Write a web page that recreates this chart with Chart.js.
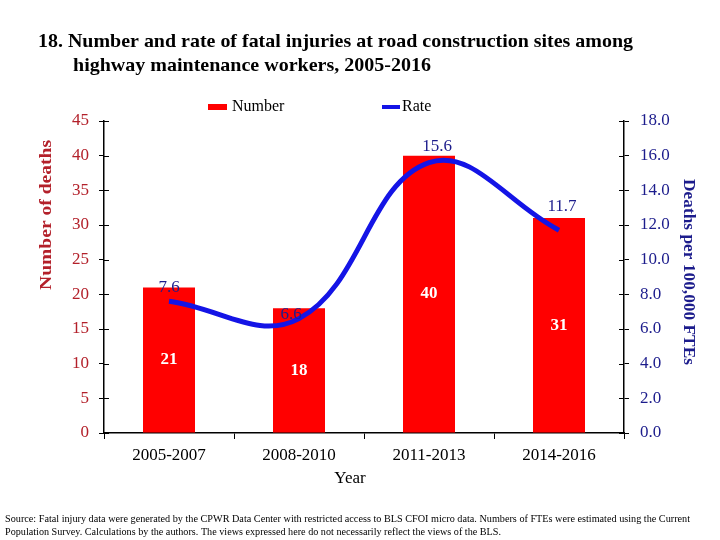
<!DOCTYPE html>
<html>
<head>
<meta charset="utf-8">
<script src="https://cdn.jsdelivr.net/npm/chart.js@4.4.0/dist/chart.umd.min.js"></script>
<style>
  html, body { margin: 0; padding: 0; background: #fff; }
  #wrap { width: 720px; height: 540px; }
</style>
</head>
<body>
<div id="wrap"><canvas id="chart" width="720" height="540"></canvas></div>
<script>
// ===== Data =====
const periods = ['2005-2007', '2008-2010', '2011-2013', '2014-2016'];
const deaths = [21, 18, 40, 31];
const rates = [7.6, 6.6, 15.6, 11.7];

const titleLines = [
    '18. Number and rate of fatal injuries at road construction sites among',
    'highway maintenance workers, 2005-2016'
];
const sourceLines = [
    'Source: Fatal injury data were generated by the CPWR Data Center with restricted access to BLS CFOI micro data. Numbers of FTEs were estimated using the Current',
    'Population Survey. Calculations by the authors. The views expressed here do not necessarily reflect the views of the BLS.'
];

// ------ colours / fonts ------
const RED = '#ff0000';
const BLUE = '#1414e6';
const DARK_RED = '#b3202a';
const NAVY = '#1c1c8c';
const SERIF = "'Liberation Serif', 'DejaVu Serif', serif";
// small nudges for the rate labels (px)
const rateLabelShift = [[0, -14], [-8, -4], [8, -16], [3, -24]];

// draw text squeezed/stretched to a given width
function fitText(ctx, text, x, y, width) {
    const w = ctx.measureText(text).width;
    ctx.save();
    ctx.translate(x, y);
    ctx.scale(width / w, 1);
    ctx.fillText(text, 0, 0);
    ctx.restore();
}

const decorations = {
    id: 'decorations',
    afterDraw(chart) {
        const ctx = chart.ctx;
        const area = chart.chartArea;
        ctx.save();
        ctx.fillStyle = '#000';
        ctx.textAlign = 'left';
        ctx.textBaseline = 'alphabetic';

        // title
        ctx.font = 'bold 19px ' + SERIF;
        fitText(ctx, titleLines[0], 38, 47, 595);
        fitText(ctx, titleLines[1], 73, 71, 358);

        // legend
        ctx.fillStyle = RED;
        ctx.fillRect(208, 104, 19, 6);
        ctx.strokeStyle = BLUE;
        ctx.lineWidth = 4;
        ctx.beginPath();
        ctx.moveTo(382, 107);
        ctx.lineTo(400, 107);
        ctx.stroke();
        ctx.fillStyle = '#000';
        ctx.font = '16px ' + SERIF;
        ctx.textBaseline = 'middle';
        ctx.fillText('Number', 232, 107);
        ctx.fillText('Rate', 402, 107);

        // axis titles
        ctx.textAlign = 'center';
        ctx.font = '17px ' + SERIF;
        ctx.fillText('Year', (area.left + area.right) / 2 - 14, 479);

        ctx.save();
        ctx.translate(47, 215);
        ctx.rotate(-Math.PI / 2);
        ctx.fillStyle = DARK_RED;
        ctx.font = 'bold 16px ' + SERIF;
        ctx.textAlign = 'left';
        fitText(ctx, 'Number of deaths', -75, 0, 150);
        ctx.restore();

        ctx.save();
        ctx.translate(688, 272);
        ctx.rotate(Math.PI / 2);
        ctx.fillStyle = NAVY;
        ctx.font = 'bold 16px ' + SERIF;
        ctx.textAlign = 'left';
        fitText(ctx, 'Deaths per 100,000 FTEs', -93, 0, 186);
        ctx.restore();

        // inward tick marks on the value axes
        ctx.strokeStyle = '#000';
        ctx.lineWidth = 1;
        ['y', 'y2'].forEach(id => {
            const s = chart.scales[id];
            const x = id === 'y' ? area.left : area.right;
            const dir = id === 'y' ? 1 : -1;
            s.ticks.forEach((t, i) => {
                const py = Math.round(s.getPixelForTick(i)) + 0.5;
                ctx.beginPath();
                ctx.moveTo(x, py);
                ctx.lineTo(x + dir * 5, py);
                ctx.stroke();
            });
        });

        // source note
        ctx.fillStyle = '#000';
        ctx.textAlign = 'left';
        ctx.textBaseline = 'alphabetic';
        ctx.font = '10px ' + SERIF;
        fitText(ctx, sourceLines[0], 5, 522, 685);
        fitText(ctx, sourceLines[1], 5, 535, 496);
        ctx.restore();
    },
    afterDatasetsDraw(chart) {
        const ctx = chart.ctx;
        ctx.save();
        ctx.textAlign = 'center';
        ctx.textBaseline = 'middle';

        // bar values, white, centred in the bar
        const bars = chart.getDatasetMeta(1).data;
        ctx.fillStyle = '#fff';
        ctx.font = 'bold 17px ' + SERIF;
        bars.forEach((b, i) => {
            ctx.fillText(String(deaths[i]), b.x, (b.y + b.base) / 2);
        });

        // rate values above the line
        const pts = chart.getDatasetMeta(0).data;
        ctx.fillStyle = NAVY;
        ctx.font = '17px ' + SERIF;
        pts.forEach((p, i) => {
            ctx.fillText(rates[i].toFixed(1), p.x + rateLabelShift[i][0], p.y + rateLabelShift[i][1]);
        });
        ctx.restore();
    }
};

new Chart(document.getElementById('chart'), {
    data: {
        labels: periods,
        datasets: [
            {
                type: 'line',
                label: 'Rate',
                data: rates,
                yAxisID: 'y2',
                borderColor: BLUE,
                borderWidth: 5,
                tension: 0.4,
                pointRadius: 0,
                order: 0
            },
            {
                type: 'bar',
                label: 'Number',
                data: deaths,
                yAxisID: 'y',
                backgroundColor: RED,
                borderWidth: 0,
                barPercentage: 0.4,
                categoryPercentage: 1,
                order: 1
            }
        ]
    },
    options: {
        responsive: false,
        animation: false,
        layout: { padding: { top: 121, left: 0, right: 0, bottom: 0 } },
        plugins: {
            legend: { display: false },
            title: { display: false },
            tooltip: { enabled: false }
        },
        scales: {
            x: {
                offset: true,
                grid: { offset: true, drawOnChartArea: false, tickLength: 6, color: '#000' },
                border: { color: '#000', width: 1.5 },
                ticks: { color: '#000', font: { family: SERIF, size: 17 }, padding: 6, maxRotation: 0 },
                afterFit: s => { s.height = 107; }
            },
            y: {
                position: 'left',
                min: 0,
                max: 45,
                ticks: { stepSize: 5, color: DARK_RED, font: { family: SERIF, size: 17 }, padding: 10 },
                grid: { drawOnChartArea: false, tickLength: 5, color: '#000' },
                border: { color: '#000', width: 1.5 },
                afterFit: s => { s.width = 104; }
            },
            y2: {
                position: 'right',
                min: 0,
                max: 18,
                ticks: {
                    stepSize: 2,
                    color: NAVY,
                    font: { family: SERIF, size: 17 },
                    padding: 11,
                    callback: v => v.toFixed(1)
                },
                grid: { drawOnChartArea: false, tickLength: 5, color: '#000' },
                border: { color: '#000', width: 1.5 },
                afterFit: s => { s.width = 96; }
            }
        }
    },
    plugins: [decorations]
});
</script>
</body>
</html>
